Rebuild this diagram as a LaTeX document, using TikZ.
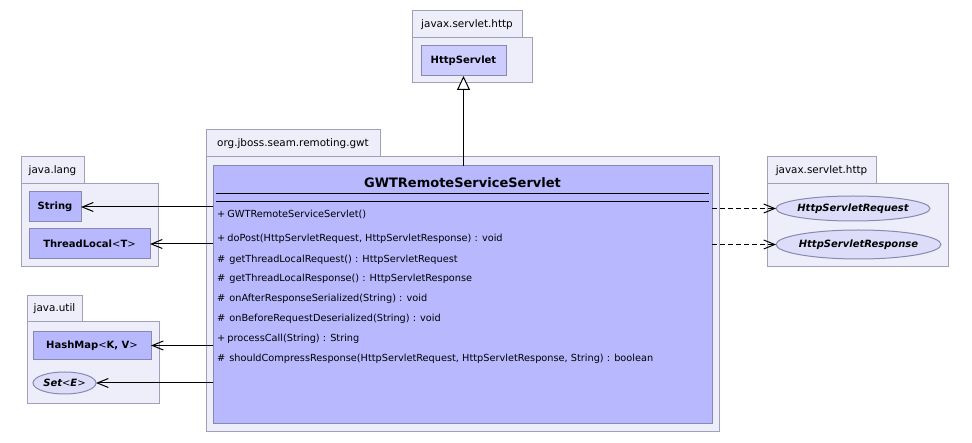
\documentclass[tikz,border=0pt]{standalone}
\usepackage{fontspec}
\setmainfont{DejaVu Sans}
\usetikzlibrary{arrows.meta,shapes.geometric}
\definecolor{pkgfill}{RGB}{238,238,250}
\definecolor{pkgdraw}{RGB}{160,160,184}
\definecolor{clsfill}{RGB}{184,184,255}
\definecolor{extfill}{RGB}{204,204,255}
\definecolor{clsdraw}{RGB}{136,136,176}
\definecolor{iffill}{RGB}{221,221,250}
\begin{document}
\begin{tikzpicture}[x=1pt,y=-1pt,
  pkgbody/.style={draw=pkgdraw, fill=pkgfill, line width=1pt, inner sep=0pt, outer sep=0pt},
  pkgtab/.style={pkgbody, font=\fontsize{10.4}{12}\selectfont},
  clsbox/.style={draw=clsdraw, fill=clsfill, line width=1pt, inner sep=0pt, outer sep=0pt, font=\bfseries\fontsize{10}{12}\selectfont},
  ifbox/.style={ellipse, draw=clsdraw, fill=iffill, line width=1pt, inner sep=0pt, outer sep=0pt, font=\bfseries\itshape\fontsize{10}{12}\selectfont},
  method/.style={anchor=west, inner sep=0pt, font=\fontsize{9.75}{11}\selectfont},
  assoc/.style={-{Straight Barb[length=11pt,width=9pt]}, line width=1pt},
  dep/.style={assoc, dash pattern=on 5pt off 3pt},
  gen/.style={-{Triangle[length=14pt,width=13pt,fill=white]}, line width=1pt}]
\useasboundingbox (0,0) rectangle (972,443);

% top package javax.servlet.http
\node[pkgtab, minimum width=110pt, minimum height=27pt] (ptopt) at (467,24.5) {javax.servlet.http};
\node[pkgbody, minimum width=120pt, minimum height=45pt] (ptopb) at (472,60.5) {};
\node[clsbox, fill=extfill, minimum width=85pt, minimum height=30pt] (hs) at (463.5,61) {HttpServlet};

% main package
\node[pkgtab, minimum width=174pt, minimum height=27pt] (pmaint) at (293,143.5) {org.jboss.seam.remoting.gwt};
\node[pkgbody, minimum width=513pt, minimum height=275pt] (pmainb) at (462.5,294.5) {};
\node[clsbox, minimum width=499pt, minimum height=258pt] (cls) at (462.5,295) {};
\node[inner sep=0pt, font=\bfseries\fontsize{13}{15}\selectfont] (title) at (462.5,183) {GWTRemoteServiceServlet};
\draw[line width=1pt] (cls.north west) ++(3,28) -- ++(493,0);
\draw[line width=1pt] (cls.north west) ++(3,36) -- ++(493,0);
\node[method] (m1) at (217,214) {+\hspace{2pt}GWTRemoteServiceServlet()};
\node[method] (m2) at (217,239) {+\hspace{2pt}doPost(HttpServletRequest, HttpServletResponse) : void};
\node[method] (m3) at (217,260) {\#\hspace{4pt}getThreadLocalRequest() : HttpServletRequest};
\node[method] (m4) at (217,279) {\#\hspace{4pt}getThreadLocalResponse() : HttpServletResponse};
\node[method] (m5) at (217,299) {\#\hspace{4pt}onAfterResponseSerialized(String) : void};
\node[method] (m6) at (217,319) {\#\hspace{4pt}onBeforeRequestDeserialized(String) : void};
\node[method] (m7) at (217,339) {+\hspace{2pt}processCall(String) : String};
\node[method] (m8) at (217,359) {\#\hspace{4pt}shouldCompressResponse(HttpServletRequest, HttpServletResponse, String) : boolean};

% java.lang
\node[pkgtab, minimum width=63pt, minimum height=27pt] (plangt) at (52.5,170.5) {java.lang};
\node[pkgbody, minimum width=137pt, minimum height=83pt] (plangb) at (89.5,225.5) {};
\node[clsbox, minimum width=52pt, minimum height=30pt] (str) at (55,207) {String};
\node[clsbox, minimum width=121pt, minimum height=30pt] (tl) at (89.5,244) {ThreadLocal{\mdseries<}T{\mdseries>}};

% java.util
\node[pkgtab, minimum width=55pt, minimum height=26pt] (putilt) at (54.5,309) {java.util};
\node[pkgbody, minimum width=132pt, minimum height=82pt] (putilb) at (93,363) {};
\node[clsbox, minimum width=118pt, minimum height=28pt] (hm) at (92,345.5) {HashMap{\mdseries<}K, V{\mdseries>}};
\node[ifbox, minimum width=63pt, minimum height=22pt] (set) at (64.5,383) {\makebox[0pt]{Set{\mdseries\upshape<}E{\mdseries\upshape>}}};

% right package javax.servlet.http
\node[pkgtab, minimum width=109pt, minimum height=27pt] (prt) at (821.5,170.5) {javax.servlet.http};
\node[pkgbody, minimum width=181pt, minimum height=83pt] (prb) at (857.5,225.5) {};
\node[ifbox, minimum width=154pt, minimum height=25pt] (req) at (853,208.5) {\makebox[0pt]{HttpServletRequest}};
\node[ifbox, minimum width=165pt, minimum height=29pt] (resp) at (858.5,244.5) {\makebox[0pt]{HttpServletResponse}};

% connectors
\draw[gen] (hs.south |- cls.north) -- (hs.south);
\draw[assoc] (cls.west |- str.east) -- (str.east);
\draw[assoc] (cls.west |- tl.east) -- (tl.east);
\draw[assoc] (cls.west |- hm.east) -- (hm.east);
\draw[assoc] (cls.west |- set.east) -- (set.east);
\draw[dep] (cls.east |- req.west) -- (req.west);
\draw[dep] (cls.east |- resp.west) -- (resp.west);
\end{tikzpicture}
\end{document}
